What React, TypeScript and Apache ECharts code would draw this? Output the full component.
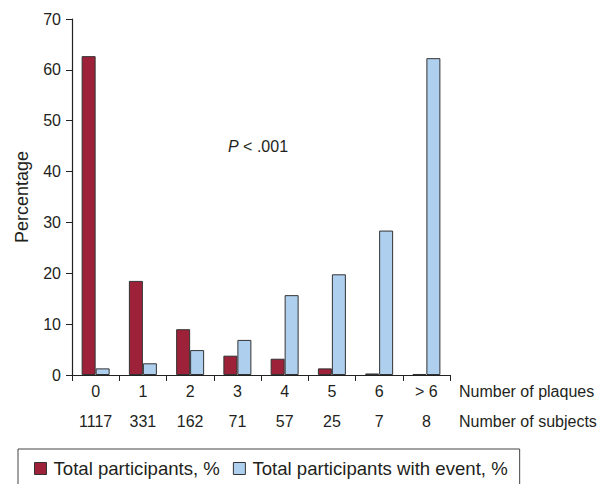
import React, { useEffect, useRef } from "react";
import * as echarts from "echarts";

const plaqueCategories = ["0", "1", "2", "3", "4", "5", "6", "> 6"];
const subjectCounts = ["1117", "331", "162", "71", "57", "25", "7", "8"];
const totalParticipants = [62.7, 18.5, 9.0, 3.8, 3.2, 1.3, 0.3, 0.2];
const participantsWithEvent = [1.3, 2.3, 4.9, 6.9, 15.7, 19.8, 28.4, 62.3];
const yTicks = { min: 0, max: 70, interval: 10 };

const FONT = "Liberation Sans, Arial, Helvetica, sans-serif";
const TEXT = "#231f20";
const RED = "#9d2139";
const BLUE = "#aecfee";

export default function App() {
  const ref = useRef<HTMLDivElement>(null);
  useEffect(() => {
    document.body.style.margin = "0";
    if (!ref.current) return;
    const chart = echarts.init(ref.current, null, { renderer: "svg" });
    chart.setOption({
      animation: false,
      textStyle: { fontFamily: FONT, color: TEXT },
      grid: { left: 72, right: 161, top: 19, bottom: 109, containLabel: false },
      legend: {
        left: 18,
        top: 449,
        padding: [10, 12, 14, 16],
        borderColor: "#444",
        borderWidth: 1,
        itemWidth: 12,
        itemHeight: 12,
        itemGap: 13,
        icon: "rect",
        textStyle: { fontSize: 18.6, color: TEXT, fontFamily: FONT, padding: [0, 0, 0, 2] },
        itemStyle: { borderColor: "#333", borderWidth: 1 },
        data: ["Total participants, %", "Total participants with event, %"],
      },
      xAxis: [
        {
          type: "category",
          data: plaqueCategories,
          position: "bottom",
          axisLine: { show: true, lineStyle: { color: "#222", width: 1.2 } },
          axisTick: { show: true, length: 6, lineStyle: { color: "#222" } },
          axisLabel: { fontSize: 16, color: TEXT, margin: 8, fontFamily: FONT },
          name: "Number of plaques",
          nameLocation: "end",
          nameGap: 9,
          nameTextStyle: { fontSize: 16, color: TEXT, verticalAlign: "top", padding: [8, 0, 0, 0], fontFamily: FONT },
        },
        {
          type: "category",
          data: subjectCounts,
          position: "bottom",
          offset: 30,
          axisLine: { show: false },
          axisTick: { show: false },
          axisLabel: { fontSize: 16, color: TEXT, margin: 8, fontFamily: FONT },
          name: "Number of subjects",
          nameLocation: "end",
          nameGap: 9,
          nameTextStyle: { fontSize: 16, color: TEXT, verticalAlign: "top", padding: [8, 0, 0, 0], fontFamily: FONT },
        },
      ],
      yAxis: {
        type: "value",
        min: yTicks.min,
        max: yTicks.max,
        interval: yTicks.interval,
        axisLine: { show: true, lineStyle: { color: "#222", width: 1.2 } },
        axisTick: { show: true, length: 6, lineStyle: { color: "#222" } },
        axisLabel: { fontSize: 16, color: TEXT, margin: 11, fontFamily: FONT },
        splitLine: { show: false },
        name: "Percentage",
        nameLocation: "middle",
        nameRotate: 90,
        nameGap: 41,
        nameTextStyle: { fontSize: 18, color: TEXT, fontFamily: FONT },
      },
      series: [
        {
          name: "Total participants, %",
          type: "bar",
          xAxisIndex: 0,
          data: totalParticipants,
          barWidth: 14,
          barGap: "0%",
          itemStyle: { color: RED, borderColor: "#333", borderWidth: 1 },
        },
        {
          name: "Total participants with event, %",
          type: "bar",
          xAxisIndex: 0,
          data: participantsWithEvent,
          barWidth: 14,
          barGap: "0%",
          itemStyle: { color: BLUE, borderColor: "#333", borderWidth: 1 },
        },
      ],
      graphic: [
        {
          type: "text",
          left: 228,
          top: 138,
          style: {
            text: "{i|P} < .001",
            fontSize: 16,
            fill: TEXT,
            fontFamily: FONT,
            rich: { i: { fontStyle: "italic", fontSize: 16, fontFamily: FONT, fill: TEXT } },
          },
        },
      ],
    });
    return () => chart.dispose();
  }, []);
  return <div ref={ref} style={{ width: 611, height: 484 }} />;
}
